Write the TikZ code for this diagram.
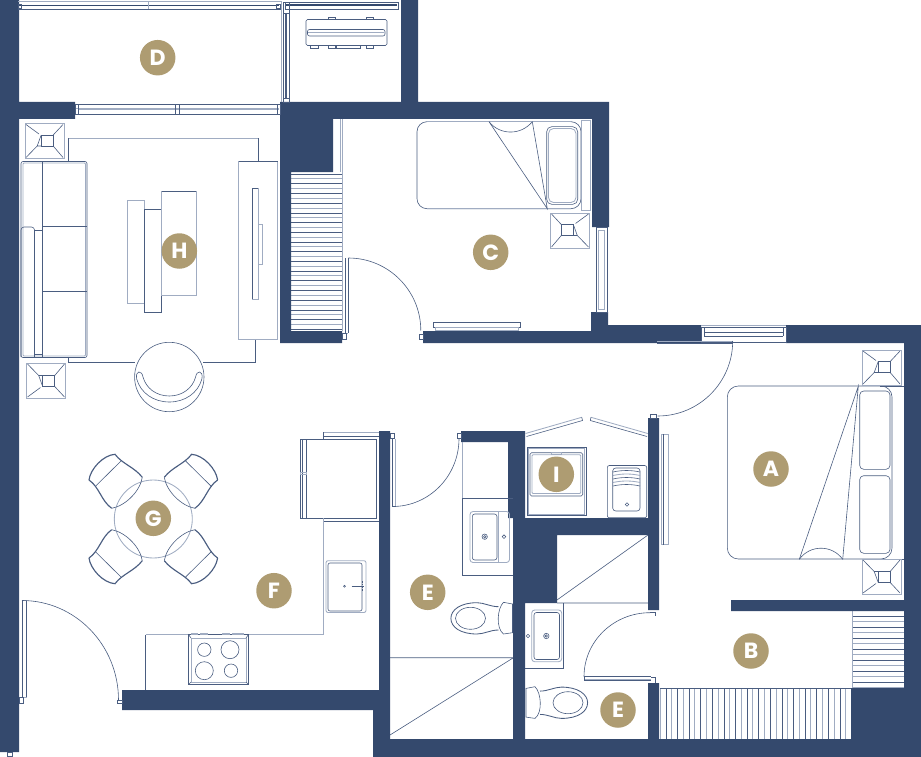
\documentclass[tikz,border=0pt]{standalone}
\usepackage{fontspec}
\newfontfamily\labfont{Poppins}
\definecolor{wallc}{HTML}{34496D}
\definecolor{tanc}{HTML}{AE9C72}
\definecolor{darkl}{HTML}{4A5D80}
\definecolor{lightl}{HTML}{A0ACC2}
\tikzset{
  wall/.style={fill=wallc,draw=none},
  ln/.style={draw=darkl,line width=.6pt},
  lt/.style={draw=lightl,line width=.85pt},
  mk/.style={circle,fill=tanc,minimum size=35.5pt,inner sep=0pt,text=white,font=\labfont\bfseries\fontsize{22}{22}\selectfont},
  lamppic/.pic={
    \draw[lt] (-19.5,-17.5) rectangle (19.5,17.5);
    \draw[ln] (-3.3,-6) rectangle (8.7,5);
    \draw[ln] (-3.3,-6)--(-7.3,5)--(-3.3,5);
    \draw[ln] (-18.5,-16.5)--(-5.5,-7) (18.5,-16.5)--(8.7,-6) (18.5,16.5)--(8.7,5) (-18.5,16.5)--(-7.3,5);
  },
  toiletpic/.pic={
    \draw[ln] (0,-14.3)--(-9,-16) .. controls (-15.3,-10) and (-16.8,10) .. (-9,15.7)--(0,14.4)--cycle;
    \draw[ln,line width=.85pt] (-14,-11.6) .. controls (-22.3,-11.6) and (-28.3,-15.6) .. (-35.6,-15.6) .. controls (-52.3,-15.6) and (-61.6,-8.3) .. (-61.6,0) .. controls (-61.6,8.7) and (-52.3,15.7) .. (-35.6,15.7) .. controls (-28.3,15.7) and (-22.3,11.7) .. (-14,11.7);
    \draw[ln] (-42,0) ellipse [x radius=15,y radius=11];
  },
  chairpic/.pic={
    \draw[ln,line width=1.15pt] (-64.3,-39) .. controls (-63,-50) and (-50,-64) .. (-38.3,-64.7) .. controls (-31,-55) and (-19,-52) .. (-11,-41.7);
    \draw[ln,line width=1.15pt] (-41.6,-10.7) .. controls (-52,-18) and (-54,-32) .. (-64.3,-39);
    \draw[ln] (-11,-41.7) .. controls (-13,-28) and (-28,-13) .. (-41.6,-10.7);
    \draw[ln] (-58.3,-32.3)--(-32.3,-58);
  }
}
\begin{document}
\begin{tikzpicture}[x=1pt,y=-1pt]
\useasboundingbox (0,0) rectangle (921,757);
% ---------- hatches (under walls)
\foreach \yy in {174,183.7,...,331} \draw[ln] (291,\yy)--(342,\yy);
\foreach \yy in {178.85,188.55,...,331} \draw[lt] (291,\yy)--(342,\yy);
\foreach \yy in {616,627,...,688} \draw[ln] (852,\yy)--(904,\yy);
\foreach \yy in {621.5,632.5,...,688} \draw[lt] (852,\yy)--(904,\yy);
\draw[lt] (852,611)--(852,688);
\foreach \xx in {660,671.6,...,851} \draw[lt] (\xx,688)--(\xx,739);
\foreach \xx in {665.8,677.4,...,851} \draw[ln] (\xx,688)--(\xx,739);
\draw[ln] (660,688)--(851,688);
% ---------- walls
\fill[wall]
 (0,0) rectangle (19,752)
 (18,102) rectangle (75,119)
 (401,0) rectangle (418,102)
 (280,102) rectangle (609,119)
 (280,102) rectangle (333,172)
 (280,172) rectangle (291,343)
 (280,331) rectangle (342,343)
 (592,102) rectangle (609,227)
 (423,331) rectangle (620,343)
 (591,312) rectangle (608,331)
 (608,325) rectangle (701,343)
 (786,325) rectangle (921,343)
 (904,325) rectangle (921,757)
 (373,739) rectangle (921,757)
 (373,710) rectangle (390,739)
 (122,690) rectangle (390,710)
 (379,431) rectangle (390,710)
 (461,431) rectangle (525,442)
 (508,431) rectangle (525,518)
 (513,498) rectangle (525,739)
 (513,518) rectangle (648,535)
 (513,535) rectangle (557,603)
 (648,418) rectangle (659,610)
 (648,683) rectangle (659,739)
 (731,600) rectangle (904,611)
 (851,688) rectangle (904,739);
% ---------- balcony rails
\draw[lt] (18,1.8)--(282,1.8);
\draw[wallc,line width=.9pt] (18,5.4)--(279,5.4);
\draw[ln] (18,9.3)--(282,9.3);
\draw[ln] (18.5,4) rectangle (21,8);
\draw[ln] (276.5,4) rectangle (280,8);
\draw[lt] (148.5,2)--(148.5,9);
\draw[ln] (285,2.2) rectangle (398,9.2);
\draw[wallc,line width=1.6pt] (286,5.2)--(397,5.2);
\draw[lt] (281.5,1) -- (281.5,102);
\draw[ln] (283,2) rectangle (289,13);
\draw[ln] (283,98) rectangle (289,102);
\draw[ln] (283,13)--(283,98) (289,13)--(289,98);
\draw[darkl,line width=1.1pt] (286,14)--(286,98);
\draw[ln] (75,104.5) rectangle (280,114);
\draw[lt] (76,108)--(279,108);
\draw[lt] (78,109.5)--(279,109.5);
\draw[ln] (75,104.5) rectangle (78,114);
\draw[ln] (175.5,104.5) rectangle (179.5,114);
\draw[ln] (277,104.5) rectangle (280,114);
% AC unit
\draw[ln] (306,19.5) [rounded corners=1.5pt] rectangle (387,45.5);
\draw[ln] (307.5,29.5) [rounded corners=2pt] rectangle (385,36);
\draw[lt,line width=1.1pt] (308,32.7)--(384,32.7);
\draw[ln] (328.5,17.3) rectangle (335,19.5) (366.5,17.3) rectangle (373,19.5);
\draw[ln] (310.5,45.5) rectangle (318,48.3) (328.5,45.5) rectangle (335,48.3) (336,45.5) rectangle (360,48.3) (366.5,45.5) rectangle (373,48.3);
% ---------- living room
\pic at (44.5,141) {lamppic};
\pic[yscale=-1] at (46,380.5) {lamppic};
\draw[ln] (68.5,162)--(68.5,138)--(258,138)--(258,161);
\draw[ln] (68.5,358)--(68.5,362)--(135,362);
\draw[ln] (203,362)--(255.5,362)--(255.5,340);
\draw[lt] (68.5,138)--(258,138);
\draw[ln,rounded corners=2pt] (21,161.5) rectangle (87,357.5);
\draw[lt,rounded corners=1pt] (23,163) rectangle (85.5,356);
\draw[ln] (42,161.5)--(42,357.5);
\draw[ln] (42,226.7)--(87,226.7) (42,291.7)--(87,291.7);
\draw[ln,rounded corners=3pt] (21,357)--(21,227)--(34.5,227)--(34.5,357);
\draw[ln] (34.5,230)--(42,230) (34.5,354)--(42,354);
\draw[lt] (127,200) rectangle (144.5,303);
\draw[ln] (144.5,209) rectangle (161.5,312);
\draw[lt] (161.5,191) rectangle (196,295);
\draw[ln] (161.5,191)--(196,191);
\draw[lt] (238.5,161) rectangle (277.5,339.5);
\draw[ln] (238.5,161)--(277.5,161);
\draw[lt] (252.5,188) rectangle (258,299);
\draw[ln] (252.5,188)--(258,188) (252.5,188)--(252.5,299);
\draw[lt] (258,224) rectangle (262,264);
\draw[ln] (169.3,377) circle [radius=34.7];
\draw[ln] (136.7,379) .. controls (135,370) and (142,370) .. (143,377) .. controls (146,388) and (156,396) .. (169.3,396) .. controls (182.6,396) and (192.6,388) .. (195.6,377) .. controls (196.6,370) and (203.6,370) .. (201.9,379) .. controls (198,393) and (185,402) .. (169.3,402) .. controls (153.6,402) and (140.6,393) .. (136.7,379);
% ---------- dining
\draw[lt] (153.3,519) circle [radius=39];
\pic at (153.3,519) {chairpic};
\pic[xscale=-1] at (153.3,519) {chairpic};
\pic[yscale=-1] at (153.3,519) {chairpic};
\pic[xscale=-1,yscale=-1] at (153.3,519) {chairpic};
% ---------- kitchen
\draw[ln] (300,439) rectangle (376,518);
\draw[ln] (306.5,439)--(306.5,518) (302,439)--(302,518);
\draw[lt] (300.5,472.3) rectangle (306,474.3);
\draw[lt] (323.3,432.5)--(379,432.5);
\draw[ln] (323.3,436)--(379,436) (323.3,432)--(323.3,439);
\draw[ln] (323.3,521)--(379,521);
\draw[lt] (323.3,518)--(323.3,634.5)--(145.7,634.5);
\draw[ln] (145.7,634.5)--(145.7,690);
\draw[lt,rounded corners=2pt] (326,560.7) rectangle (366,612.5);
\draw[ln,rounded corners=2pt] (328,563) rectangle (362,611);
\draw[ln] (344.5,586.3) circle [radius=1];
\draw[darkl,line width=1pt] (351.5,586.5)--(363.5,586.5);
\draw[darkl,line width=.8pt,dash pattern=on 1.5pt off 1.3pt] (362.5,581)--(362.5,592);
\draw[ln] (188.5,634.5) rectangle (248.5,684.5);
\draw[lt] (191,638) rectangle (246,682);
\draw[ln] (188.5,634.5)--(191,638) (248.5,634.5)--(246,638) (188.5,684.5)--(191,682) (248.5,684.5)--(246,682);
\draw[lt] (191,633.5) rectangle (197,634.3) (200,633.5) rectangle (207,634.3) (222,633.5) rectangle (229,634.3) (232,633.5) rectangle (243,634.3);
\draw[ln] (204.3,649.7) circle [radius=6.7] (230,649.7) circle [radius=9] (204.3,670.7) circle [radius=9] (231,670.7) circle [radius=6.7];
% ---------- entrance door
\draw[lt] (22,600.5) rectangle (26,697);
\draw[ln] (22,600.5)--(22,697) (26,600.5)--(26,697);
\draw[ln] (22,600.5) arc [start angle=-90,end angle=0,x radius=96.5,y radius=99.5];
\draw[ln] (117.5,700) rectangle (122,703.5);
\draw[ln] (19.5,697) rectangle (23,703);
\draw[ln] (7,752.5) rectangle (12.5,756);
% ---------- bedroom C
\draw[lt] (342.5,119)--(342.5,331) (340.7,119)--(340.7,172);
\draw[ln,rounded corners=10pt] (417,121.7) rectangle (581,208.7);
\draw[lt] (427,121.7)--(571,121.7) (427,208.7)--(571,208.7);
\draw[ln,rounded corners=5pt] (546.7,126.7) rectangle (577.7,204.3);
\draw[lt,rounded corners=5pt] (548.5,128.5) rectangle (576,202.5);
\draw[ln] (489,121.7)--(547.3,208.7)--(532.3,121.7);
\draw[ln] (489,121.7) .. controls (500,135.5) and (521,135.5) .. (532.3,121.7);
\draw[lt] (581,120) rectangle (590,210);
\pic[xscale=-1] at (570,230.5) {lamppic};
\draw[ln] (433.3,322.3) rectangle (520.7,327.3);
\draw[lt] (435,327.3) rectangle (518.3,330.5);
\draw[ln] (596,227) rectangle (607,312);
\draw[lt] (598,230) rectangle (604.5,309);
\draw[ln] (345,258)--(345,333) (348.3,258)--(348.3,333);
\draw[lt] (345,333)--(348.3,333);
\draw[ln] (342.5,333) rectangle (346.5,339);
\draw[ln] (348.3,258) arc [start angle=-90,end angle=0,radius=72.5];
\draw[ln] (419.5,334) rectangle (423,339);
% ---------- bedroom A
\draw[ln,rounded corners=11pt] (727.3,386) rectangle (892,559);
\draw[ln] (880,386)--(904,386) (880,559)--(904,559);
\draw[ln,rounded corners=4pt] (859.7,391) rectangle (890,469.3);
\draw[ln,rounded corners=4pt] (859.7,475.7) rectangle (890,553.3);
\draw[ln] (799.3,559.3)--(858.3,386.3)--(842.7,559.3);
\draw[ln] (799.3,559.3) .. controls (810,544.5) and (832,544.5) .. (842.7,559.3);
\pic at (881.5,367.5) {lamppic};
\pic[yscale=-1] at (881.5,576.5) {lamppic};
\draw[lt] (701,325.5)--(786,325.5);
\draw[ln] (701,327.5) rectangle (786,342);
\draw[ln] (704,327.5)--(704,336) (783,327.5)--(783,336);
\draw[darkl,line width=.9pt] (704,332.5)--(783,332.5);
\draw[ln] (704,336)--(783,336);
\draw[lt] (657,341)--(732.7,341);
\draw[ln] (657,343.5)--(732.7,343.5) (732.7,341)--(732.7,343.5);
\draw[ln] (732.7,341) arc [start angle=0,end angle=90,radius=75];
\draw[ln] (650.5,414.5) rectangle (656,418);
\draw[lt] (661.7,434) rectangle (668,544.5);
\draw[ln] (663.5,434)--(663.5,544.5);
% ---------- bathroom 1
\draw[ln] (390,433) rectangle (394,438);
\draw[lt] (395.5,439)--(395.5,506.5);
\draw[ln] (392.5,439)--(392.5,506.5);
\draw[ln] (392.5,506.5)--(395.5,506.5);
\draw[ln] (392.5,506.5) arc [start angle=90,end angle=0,x radius=66.5,y radius=68];
\draw[ln] (457.5,433) rectangle (461,438);
\draw[lt] (462.7,442)--(462.7,498.3);
\draw[ln] (462.7,498.3)--(513,498.3) (462.7,498.3)--(462.7,575.3)--(513,575.3);
\draw[lt,rounded corners=3pt] (470,511.5) rectangle (509.5,562.5);
\draw[lt] (498,511.5)--(498,562.5);
\draw[ln,rounded corners=2.5pt] (472.3,514) rectangle (497,560);
\draw[ln] (484.7,536.7) circle [radius=2.7] (484.7,536.7) circle [radius=1.2] (504,536.7) circle [radius=1.8];
\pic at (512.5,618.3) {toiletpic};
\draw[ln] (390,657.7)--(513,657.7) (390,735)--(513,658);
% ---------- bathroom 2
\draw[ln] (557,603)--(648,603) (557,600)--(648,535);
\draw[ln] (563.7,603)--(563.7,668.5)--(525,668.5);
\draw[lt,rounded corners=3pt] (531.7,610) rectangle (561.7,661.7);
\draw[ln,rounded corners=2.5pt] (534,612.5) rectangle (559.5,659.5);
\draw[ln] (546.3,636) circle [radius=2.7] (546.3,636) circle [radius=1.2] (528,636) circle [radius=1.8];
\pic[xscale=-1] at (526,702.7) {toiletpic};
\draw[lt] (584,679)--(650.7,679);
\draw[ln] (584,676.7)--(650.7,676.7) (584,676.7)--(584,680.7)--(650.7,680.7);
\draw[ln] (584,676.7) arc [start angle=180,end angle=270,x radius=66,y radius=64];
\draw[ln] (650,612.5)--(655,612.5)--(655,616) (651,677)--(655,677)--(655,682.5);
% ---------- laundry
\draw[lt] (525.5,433.5)--(581.7,417.3);
\draw[ln] (526.5,436.5)--(582.5,420.5)--(581.7,417.3);
\draw[lt] (647.7,433.5)--(591,417.3);
\draw[ln] (647,436.5)--(590.3,420.5)--(591,417.3);
\draw[ln] (527.3,447.3) rectangle (586,515.7);
\draw[lt] (528.5,448.5) rectangle (584.8,514.5);
\draw[ln,rounded corners=1.5pt] (530,452.7) rectangle (582.7,496);
\draw[lt,rounded corners=1pt] (532,454.7) rectangle (580.7,493.5);
\draw[lt] (551.5,452.7) rectangle (561.5,454.7);
\draw[ln,rounded corners=2pt] (607.3,465.5) rectangle (646.7,517.7);
\draw[ln,rounded corners=3pt] (612.7,488)--(612.7,468)--(640,468)--(640,488);
\draw[ln] (613,472) .. controls (622,470) and (631,470) .. (640,472);
\draw[lt] (613,475.5) .. controls (622,473.5) and (631,473.5) .. (640,475.5);
\draw[ln] (613,479) .. controls (622,477) and (631,477) .. (640,479);
\draw[lt] (613,482.5) .. controls (622,480.5) and (631,480.5) .. (640,482.5);
\draw[ln] (613,486) .. controls (622,484) and (631,484) .. (640,486);
\draw[ln,rounded corners=3pt] (612.7,488)--(612.7,511)--(640,511)--(640,488);
\draw[ln] (627,504.5) circle [radius=1.8];
% ---------- labels
\node[mk] (labD) at (157.7,57.7) {D};
\node[mk] (labH) at (179.3,251) {H};
\node[mk] (labC) at (490.7,252.3) {C};
\node[mk] (labA) at (771,469) {A};
\node[mk] (labG) at (153.3,518.3) {G};
\node[mk] (labF) at (274,590.7) {F};
\node[mk] (labE) at (427.7,592.3) {E};
\node[mk] (labI) at (556.3,474.3) {I};
\node[mk] (labEE) at (618,710) {E};
\node[mk] (labB) at (751,651) {B};
\end{tikzpicture}
\end{document}
